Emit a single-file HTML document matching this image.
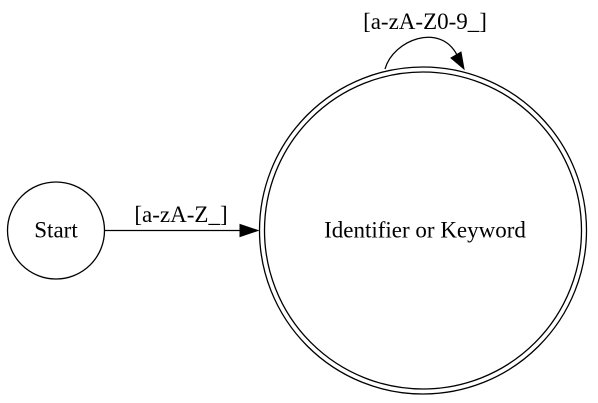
<!DOCTYPE html>
<html><head><meta charset="utf-8"><style>
html,body{margin:0;padding:0;background:#fff;width:598px;height:403px;overflow:hidden}
svg{display:block}
text{font-family:"Liberation Serif",serif;font-size:23px;fill:#000}
</style></head><body>
<svg width="598" height="403" viewBox="0 0 598 403">
<g>
<circle cx="56" cy="230.5" r="48.5" fill="none" stroke="#000" stroke-width="1.3"/>
<text x="56" y="237.5" text-anchor="middle">Start</text>
</g>
<g>
<line x1="104.5" y1="230.5" x2="241" y2="230.5" stroke="#000" stroke-width="1.3"/>
<polygon points="240,224.5 258,230.5 240,236.5" fill="#000" stroke="#000"/>
<text x="181" y="222" text-anchor="middle">[a-zA-Z_]</text>
</g>
<g>
<circle cx="423" cy="230.5" r="163.5" fill="none" stroke="#000" stroke-width="1.3"/>
<circle cx="423" cy="230.5" r="158.5" fill="none" stroke="#000" stroke-width="1.3"/>
<text x="425" y="237.5" text-anchor="middle">Identifier or Keyword</text>
</g>
<g>
<path d="M385,69 C393,40 440,22 457,55" fill="none" stroke="#000" stroke-width="1.3"/>
<polygon points="451,58 464,69 461,52" fill="#000" stroke="#000"/>
<text x="425" y="29" text-anchor="middle">[a-zA-Z0-9_]</text>
</g>
</svg>
</body></html>
